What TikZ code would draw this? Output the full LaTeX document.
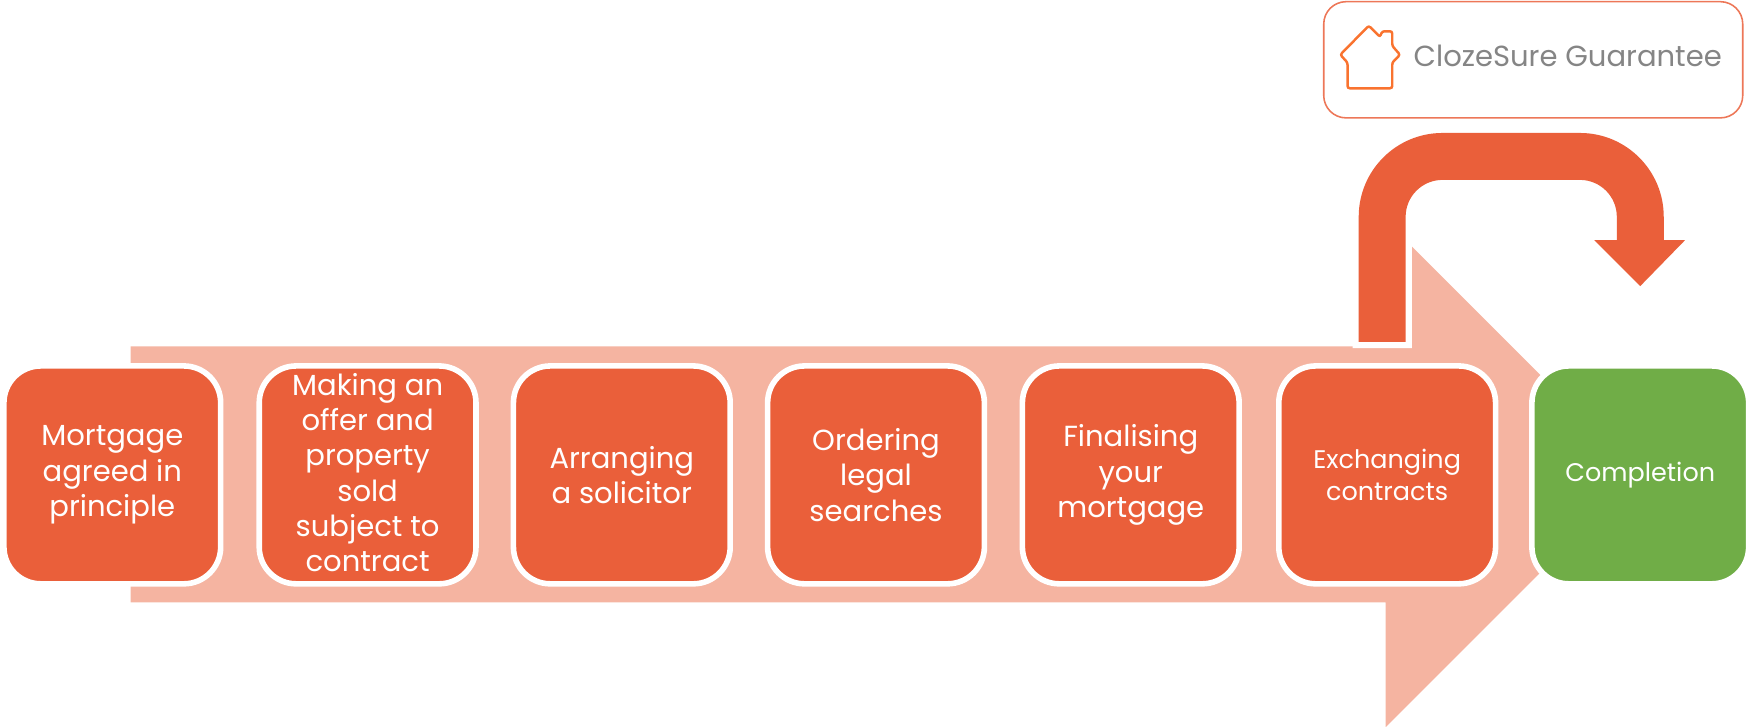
\documentclass[tikz,border=0pt]{standalone}
\usepackage{fontspec}
\setmainfont{Poppins}
\definecolor{mainor}{HTML}{EA5F3A}
\definecolor{lightor}{HTML}{F5B4A1}
\definecolor{compgreen}{HTML}{70AD47}
\definecolor{guargray}{HTML}{858585}
\definecolor{houseor}{HTML}{F9732F}
\tikzset{
  stage/.style={draw=white,line width=5pt,fill=mainor,rounded corners=33pt,minimum width=194pt,minimum height=195pt,inner sep=0pt,align=center,text=white,font=\fontsize{26}{31.5}\selectfont},
  stagesmall/.style={stage,font=\fontsize{22.8}{28}\selectfont},
}
\newcommand{\bentshape}{(1216,306) -- (1216,194) arc[start angle=180,end angle=270,radius=75] -- (1414,119)
  arc[start angle=-90,end angle=0,radius=75] -- (1489,215) -- (1508,215) -- (1468,256) -- (1427,215) -- (1447,215)
  -- (1447,194) arc[start angle=0,end angle=-90,radius=33] -- (1291,161) arc[start angle=-90,end angle=-180,radius=33] -- (1258,306) -- cycle}
\begin{document}
\begin{tikzpicture}[x=1pt,y=-1pt]
\useasboundingbox (0,0) rectangle (1568,650.6);
% big background arrow
\fill[lightor] (117,310) -- (1240,310) -- (1240,197) -- (1467,424) -- (1240,651) -- (1240,539) -- (117,539) -- cycle;
% bent arrow with white outline
\draw[white,line width=11pt,line join=miter,miter limit=4] \bentshape;
\fill[mainor] \bentshape;
% stages
\node[stage] (s1) at (100.5,425) {Mortgage\\agreed in\\principle};
\node[stage] (s2) at (329,425) {Making an\\offer and\\property\\sold\\subject to\\contract\vspace{4pt}};
\node[stage] (s3) at (556.5,425) {Arranging\\a solicitor};
\node[stage] (s4) at (784,425) {Ordering\\legal\\searches};
\node[stage] (s5) at (1012,425) {Finalising\\your\\mortgage};
\node[stagesmall] (s6) at (1241.5,425) {Exchanging\\contracts};
\node[stagesmall,fill=compgreen] (s7) at (1468,425) {Completion};
% guarantee box
\node[draw=mainor!85,line width=1.4pt,rounded corners=20pt,minimum width=375pt,minimum height=104pt,inner sep=0pt,anchor=north west] (g) at (1184,0.8) {};
\node[anchor=west,text=guargray,font=\fontsize{26}{30}\selectfont,inner sep=0pt] (gt) at (1265,50) {ClozeSure Guarantee};
\draw[houseor,line width=2.2pt,rounded corners=2pt]
  (1225,23) -- (1235,33) -- (1237,28) -- (1246,28) -- (1246,41) -- (1253,49) -- (1246,56) -- (1246,79) -- (1206,79) -- (1206,56) -- (1199.5,49) -- cycle;
\end{tikzpicture}
\end{document}
